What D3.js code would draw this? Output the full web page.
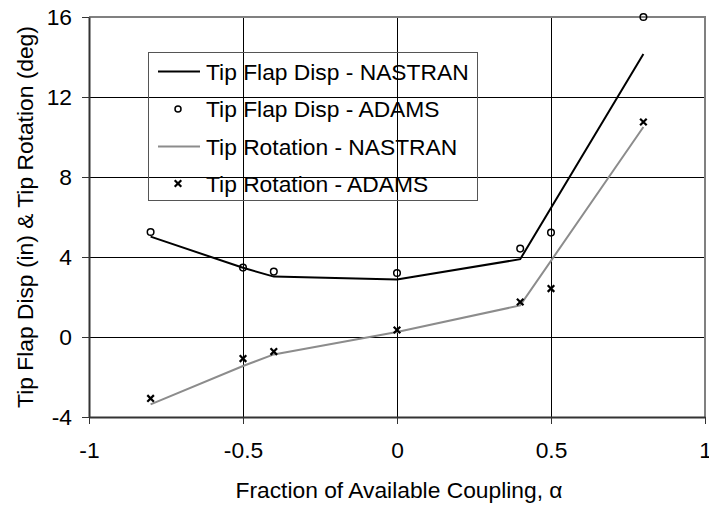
<!DOCTYPE html>
<html>
<head>
<meta charset="utf-8">
<script src="https://d3js.org/d3.v7.min.js"></script>
<style>
  body { margin: 0; background: #fff; }
  svg text { font-family: "Liberation Sans", Arial, sans-serif; fill: #000; }
</style>
</head>
<body>
<div id="chart"></div>
<script>

// values
let alphaNastran = [-0.8, -0.5, -0.4, 0, 0.4, 0.8];
let flapNastran  = [5.02, 3.46, 3.02, 2.88, 3.89, 14.15];
let rotNastran   = [-3.37, -1.45, -0.87, 0.25, 1.58, 10.5];

let alphaAdams = [-0.8, -0.5, -0.4, 0, 0.4, 0.5, 0.8];
let flapAdams  = [5.25, 3.47, 3.27, 3.2, 4.42, 5.22, 16.0];
let rotAdams   = [-3.07, -1.08, -0.73, 0.35, 1.75, 2.42, 10.75];

let xTicks = [-1, -0.5, 0, 0.5, 1];
let yTicks = [-4, 0, 4, 8, 12, 16];

let legendLabels = ["Tip Flap Disp - NASTRAN", "Tip Flap Disp - ADAMS",
                    "Tip Rotation - NASTRAN", "Tip Rotation - ADAMS"];


let W = 709, H = 506;
let margin = {top: 17, right: 4, bottom: 89, left: 89};

let svg = d3.select("#chart").append("svg")
    .attr("width", W)
    .attr("height", H);

let x = d3.scaleLinear().domain([-1, 1]).range([margin.left, W - margin.right]);
let y = d3.scaleLinear().domain([-4, 16]).range([H - margin.bottom, margin.top]);

let fs = 22.8;

// grid lines
svg.append("g")
    .selectAll("line.hg")
    .data(yTicks.filter(d => d > -4 && d < 16))
    .enter().append("line")
    .attr("x1", x(-1)).attr("x2", x(1))
    .attr("y1", d => Math.round(y(d)) + 0.5).attr("y2", d => Math.round(y(d)) + 0.5)
    .attr("stroke", "#000").attr("stroke-width", 1);

svg.append("g")
    .selectAll("line.vg")
    .data(xTicks.filter(d => d > -1 && d < 1))
    .enter().append("line")
    .attr("y1", y(16)).attr("y2", y(-4))
    .attr("x1", d => Math.round(x(d)) + 0.5).attr("x2", d => Math.round(x(d)) + 0.5)
    .attr("stroke", "#000").attr("stroke-width", 1);

// top and right border
svg.append("path")
    .attr("d", "M" + x(-1) + "," + y(16) + "H" + x(1) + "V" + y(-4))
    .attr("fill", "none").attr("stroke", "#808080").attr("stroke-width", 2);

// legend (no fill, grid shows through)
let lg = svg.append("g");
lg.append("rect")
    .attr("x", 148.5).attr("y", 52.5).attr("width", 329).attr("height", 148)
    .attr("fill", "none").attr("stroke", "#555").attr("stroke-width", 1);

let legendY = [71.5, 109, 146.5, 183.5];

legendLabels.forEach((lab, i) => {
    let yy = legendY[i];
    if (i == 0 || i == 2) {
        lg.append("line")
            .attr("x1", 158).attr("x2", 200)
            .attr("y1", yy).attr("y2", yy)
            .attr("stroke", i == 0 ? "#000" : "#8c8c8c").attr("stroke-width", 2);
    } else if (i == 1) {
        lg.append("circle").attr("cx", 178).attr("cy", yy).attr("r", 3)
            .attr("fill", "none").attr("stroke", "#000").attr("stroke-width", 1.5);
    } else {
        lg.append("path").attr("d", d3.symbol(d3.symbolX, 30)())
            .attr("transform", "translate(178," + yy + ")")
            .attr("stroke", "#000").attr("stroke-width", 2.2).attr("fill", "none");
    }
    lg.append("text")
        .attr("x", 206).attr("y", yy)
        .attr("dy", "0.36em")
        .style("font-size", fs + "px")
        .text(lab);
});

// lines
let line = d3.line().x(d => x(d[0])).y(d => y(d[1]));

svg.append("path")
    .datum(d3.zip(alphaNastran, flapNastran))
    .attr("d", line)
    .attr("fill", "none").attr("stroke", "#000").attr("stroke-width", 2);

svg.append("path")
    .datum(d3.zip(alphaNastran, rotNastran))
    .attr("d", line)
    .attr("fill", "none").attr("stroke", "#8c8c8c").attr("stroke-width", 2);

// markers
svg.append("g").selectAll("circle")
    .data(d3.zip(alphaAdams, flapAdams))
    .enter().append("circle")
    .attr("cx", d => x(d[0])).attr("cy", d => y(d[1]))
    .attr("r", 3.3)
    .attr("fill", "none").attr("stroke", "#000").attr("stroke-width", 1.5);

svg.append("g").selectAll("path")
    .data(d3.zip(alphaAdams, rotAdams))
    .enter().append("path")
    .attr("d", d3.symbol(d3.symbolX, 30)())
    .attr("transform", d => "translate(" + x(d[0]) + "," + y(d[1]) + ")")
    .attr("fill", "none").attr("stroke", "#000").attr("stroke-width", 2.2);

// axes (plain hyphen for negatives, like the original)
let fmt = d => String(d);

let xAxis = svg.append("g")
    .attr("transform", "translate(0," + y(-4) + ")")
    .call(d3.axisBottom(x).tickValues(xTicks).tickFormat(fmt).tickSize(7).tickSizeOuter(0).tickPadding(18));

let yAxis = svg.append("g")
    .attr("transform", "translate(" + x(-1) + ",0)")
    .call(d3.axisLeft(y).tickValues(yTicks).tickFormat(fmt).tickSize(7).tickSizeOuter(0).tickPadding(10));

[xAxis, yAxis].forEach(a => {
    a.select(".domain").attr("stroke", "#333").attr("stroke-width", 2);
    a.selectAll(".tick line").attr("stroke", "#333").attr("stroke-width", 1);
    a.selectAll("text").style("font-size", fs + "px")
        .attr("font-family", "Liberation Sans, Arial, sans-serif").attr("fill", "#000");
});

// axis titles
svg.append("text")
    .attr("x", 399).attr("y", 498)
    .attr("text-anchor", "middle")
    .style("font-size", fs + "px")
    .text("Fraction of Available Coupling, \u03b1");

svg.append("text")
    .attr("transform", "translate(33,217) rotate(-90)")
    .attr("text-anchor", "middle")
    .style("font-size", fs + "px")
    .text("Tip Flap Disp (in) & Tip Rotation (deg)");

</script>
</body>
</html>
